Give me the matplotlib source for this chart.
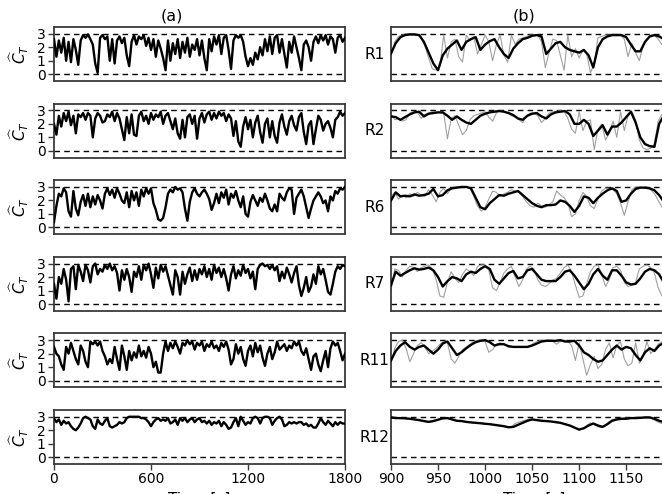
#!/usr/bin/env python3
"""plot.py - C_T time series, full run (a) and zoomed window (b)."""

import numpy as np
import matplotlib
matplotlib.use("Agg")
import matplotlib.pyplot as plt

OUTPUT_NAME = "out.png"

ROW_NAMES = ["R1", "R2", "R6", "R7", "R11", "R12"]
YLABEL = r"$\widehat{C}_T$"
XLABEL = "Time [s]"

# column (a): full record, sampled every 15 s from 0 to 1800 s
full_r1 = [2.6, 1.3, 2.5, 1.6, 2.7, 1.0, 2.4, 0.9, 2.6, 1.8, 0.7, 2.5, 2.9, 2.7, 2.95, 2.6,
           2.2, 0.8, 0.1, 2.7, 2.9, 2.6, 2.8, 1.0, 2.6, 0.8, 2.5, 2.8, 2.3, 2.7, 1.4, 0.6,
           2.4, 2.9, 2.2, 2.8, 2.6, 2.9, 2.1, 2.7, 1.8, 2.6, 1.3, 2.5, 1.9, 1.2, 0.3, 2.5,
           1.0, 2.3, 1.5, 2.6, 1.2, 2.4, 1.6, 2.7, 1.3, 2.2, 1.8, 2.6, 1.4, 2.5, 1.2, 0.3,
           2.6, 1.7, 2.8, 2.2, 2.9, 1.5, 2.7, 2.9, 1.8, 0.4, 2.5, 2.9, 2.7, 2.9, 2.4, 1.3,
           0.6, 1.2, 0.7, 1.6, 1.1, 2.0, 1.4, 2.6, 1.7, 2.8, 1.5, 2.7, 2.9, 1.6, 2.6, 1.5,
           0.5, 2.4, 1.6, 2.8, 2.0, 1.2, 0.3, 2.2, 2.5, 2.0, 1.0, 2.4, 2.8, 2.3, 2.9, 2.5,
           2.9, 2.2, 2.8, 2.6, 1.6, 2.7, 2.9, 2.4, 2.7]
full_r2 = [2.0, 1.2, 2.6, 1.8, 2.8, 2.2, 2.9, 1.9, 2.6, 1.3, 2.7, 2.5, 2.8, 2.3, 2.8, 2.6,
           1.0, 2.4, 2.8, 2.6, 2.1, 2.2, 2.7, 2.5, 2.9, 2.2, 2.8, 2.4, 1.6, 0.8, 2.5, 1.3,
           2.7, 1.2, 1.1, 2.6, 2.9, 2.2, 2.6, 2.0, 2.8, 2.3, 2.7, 2.5, 2.9, 2.0, 2.6, 2.8,
           2.2, 1.6, 2.4, 1.3, 0.9, 2.3, 1.0, 2.5, 2.7, 2.0, 2.6, 0.9, 2.4, 2.8, 2.1, 2.7,
           2.9, 2.3, 2.8, 2.4, 2.9, 2.6, 2.8, 2.2, 2.7, 2.4, 1.1, 2.2, 0.7, 0.3, 1.8, 2.5,
           1.6, 2.3, 1.0, 2.1, 2.6, 1.4, 0.6, 2.0, 2.4, 1.0, 2.2, 1.1, 0.6, 2.1, 2.7, 1.8,
           1.2, 2.2, 2.6, 1.9, 1.5, 2.5, 2.8, 1.4, 0.5, 1.9, 2.2, 0.5, 1.6, 2.6, 2.3, 1.5,
           2.0, 2.2, 1.7, 1.0, 2.3, 2.5, 2.9, 2.6, 2.8]
full_r6 = [0.4, 1.6, 2.5, 2.3, 2.9, 2.6, 1.2, 0.8, 2.7, 1.4, 0.9, 1.9, 2.4, 1.6, 2.5, 1.5,
           2.3, 1.7, 2.4, 2.0, 1.4, 2.5, 2.9, 2.4, 2.8, 2.2, 2.9, 2.5, 2.0, 1.8, 2.6, 1.5,
           2.7, 2.0, 2.6, 1.6, 2.8, 2.3, 2.9, 2.5, 2.9, 1.8, 1.3, 0.6, 0.5, 0.7, 1.5, 2.5,
           2.8, 2.6, 3.0, 2.8, 2.9, 2.6, 1.4, 0.5, 1.9, 2.6, 2.9, 2.5, 2.3, 2.6, 2.8, 2.5,
           2.1, 1.3, 1.8, 2.5, 1.8, 2.6, 2.2, 2.8, 1.7, 2.5, 2.2, 2.7, 2.0, 1.5, 2.3, 1.0,
           0.8, 1.9, 2.4, 2.0, 1.6, 2.2, 1.9, 2.5, 2.0, 1.4, 1.2, 1.7, 1.2, 2.5, 2.2, 2.0,
           2.6, 2.9, 2.8, 1.0, 2.2, 2.5, 2.8, 2.3, 1.5, 0.7, 1.4, 2.0, 2.3, 2.6, 2.3, 1.8,
           2.0, 1.2, 2.3, 2.0, 2.7, 2.5, 2.9, 2.8, 3.0]
full_r7 = [1.5, 0.4, 2.0, 1.5, 2.6, 1.8, 0.2, 2.6, 2.8, 1.1, 2.9, 2.4, 1.7, 2.9, 2.5, 1.6,
           2.8, 3.0, 2.2, 2.6, 2.4, 2.9, 2.6, 3.0, 2.5, 2.8, 2.3, 1.0, 2.5, 1.8, 2.6, 2.0,
           0.9, 2.4, 2.0, 2.8, 1.8, 2.9, 2.5, 3.0, 2.2, 1.2, 2.7, 1.9, 2.9, 2.4, 2.8, 2.1,
           1.4, 0.7, 2.5, 2.0, 0.7, 2.4, 1.5, 2.2, 2.7, 1.7, 2.5, 1.8, 2.6, 2.2, 2.8, 2.0,
           2.6, 1.8, 2.9, 2.3, 2.7, 2.0, 2.6, 1.9, 1.0, 2.2, 2.8, 1.9, 2.5, 2.1, 2.9, 2.3,
           2.6, 1.9, 2.4, 1.1, 2.6, 2.9, 3.0, 2.8, 2.9, 2.6, 2.9, 2.5, 2.8, 1.7, 2.4, 1.9,
           2.7, 2.2, 1.6, 2.3, 2.8, 1.4, 0.6, 1.2, 2.0, 0.9, 1.3, 2.2, 1.5, 2.8, 2.2, 2.6,
           1.8, 0.9, 0.7, 1.5, 2.4, 2.8, 2.6, 2.9, 2.8]
full_r11 = [2.5, 2.0, 1.8, 1.2, 0.8, 2.5, 2.0, 2.8, 2.2, 1.6, 1.2, 2.6, 2.2, 1.4, 1.0, 2.9,
            2.7, 2.9, 2.6, 2.9, 2.2, 1.8, 1.2, 1.6, 1.3, 2.5, 1.6, 0.8, 2.6, 1.8, 0.8, 2.2,
            1.5, 2.1, 1.7, 2.6, 1.8, 2.2, 1.7, 2.5, 2.0, 1.0, 1.4, 0.6, 0.6, 2.0, 2.9, 2.2,
            2.8, 2.4, 2.9, 2.5, 2.0, 2.8, 2.6, 3.0, 2.7, 2.9, 2.3, 2.8, 2.6, 2.9, 2.2, 2.7,
            2.5, 2.9, 2.4, 2.6, 2.2, 2.8, 2.5, 2.9, 2.3, 1.2, 1.6, 2.7, 2.0, 2.5, 1.6, 1.1,
            2.2, 2.6, 1.8, 2.8, 2.1, 2.6, 1.7, 1.1, 2.0, 2.5, 1.6, 2.1, 2.9, 2.3, 2.5, 2.7,
            2.2, 2.6, 2.4, 2.9, 2.6, 2.9, 2.2, 1.9, 2.4, 1.6, 0.8, 1.8, 2.0, 1.2, 0.7, 1.5,
            2.2, 1.0, 2.4, 2.9, 2.6, 2.8, 2.2, 1.5, 2.0]
full_r12 = [2.9, 2.6, 2.8, 2.4, 2.7, 2.5, 2.6, 2.3, 2.1, 2.0, 2.2, 2.5, 2.9, 3.0, 2.9, 2.8,
            2.3, 2.1, 2.8, 2.5, 2.4, 2.7, 2.9, 2.3, 2.2, 2.3, 2.4, 2.6, 2.5, 2.6, 2.9, 3.0,
            3.0, 3.0, 3.0, 3.0, 2.9, 2.9, 2.8, 2.6, 2.3, 2.6, 2.8, 2.9, 2.7, 2.8, 2.7, 2.9,
            2.5, 2.6, 2.8, 2.4, 2.9, 2.7, 2.9, 2.6, 2.8, 2.9, 2.6, 2.8, 2.9, 2.6, 2.7, 2.5,
            2.7, 2.4, 2.6, 2.5, 2.7, 2.3, 2.6, 2.4, 2.1, 2.2, 2.6, 2.9, 2.3, 3.0, 2.7, 2.4,
            2.6, 2.5, 2.9, 3.0, 2.9, 2.5, 2.9, 3.0, 3.0, 2.9, 2.4, 2.7, 2.9, 3.0, 2.8, 2.3,
            2.4, 2.6, 2.5, 2.6, 2.5, 2.6, 2.6, 2.4, 2.5, 2.3, 2.4, 2.2, 2.2, 2.5, 2.9, 2.6,
            2.4, 2.7, 2.5, 2.3, 2.6, 2.4, 2.6, 2.5, 2.5]

# column (b): 900-1200 s window; black = every 5 s, grey = every 4 s
zoom_r1 = [1.55, 2.3, 2.75, 2.9, 2.95, 2.95, 2.9, 2.4, 1.6, 0.8, 0.3, 1.4, 1.9, 2.2, 2.5, 1.8,
           2.4, 2.6, 2.75, 1.8, 2.2, 2.45, 2.6, 2.0, 1.5, 1.2, 1.9, 2.3, 2.6, 2.7, 2.85, 2.9,
           2.8, 1.5, 1.9, 2.3, 2.4, 2.0, 1.8, 1.7, 1.6, 1.8, 1.4, 0.5, 2.0, 2.6, 2.8, 2.9,
           2.9, 2.9, 2.75, 2.2, 1.7, 1.7, 2.4, 2.8, 2.9, 2.8, 2.6, 2.6, 2.6]
raw_r1 = [1.3, 2.4, 2.8, 2.9, 3.0, 3.0, 2.95, 2.9, 2.7, 2.1, 1.2, 0.4, 0.3, 0.6, 2.9, 1.2,
          2.4, 2.6, 1.3, 0.9, 2.9, 2.5, 2.8, 1.5, 2.2, 2.9, 2.4, 1.0, 2.2, 2.9, 1.4, 0.9,
          2.9, 2.2, 2.6, 2.7, 2.8, 2.9, 2.9, 2.9, 2.4, 0.5, 1.6, 2.6, 2.5, 1.4, 0.3, 2.9,
          1.3, 1.9, 1.2, 1.8, 1.5, 0.1, 0.8, 2.7, 2.8, 2.9, 2.9, 3.0, 2.95, 2.9, 2.6, 1.3,
          2.3, 1.6, 1.0, 2.1, 2.6, 2.9, 2.9, 2.6, 2.2, 2.6, 2.7, 2.6]
zoom_r2 = [2.55, 2.5, 2.3, 2.5, 2.7, 2.85, 2.9, 2.55, 2.75, 2.8, 2.85, 2.85, 2.6, 2.3, 2.55, 2.3,
           2.1, 2.0, 2.3, 2.6, 2.75, 2.85, 2.9, 2.95, 2.9, 2.8, 2.65, 2.4, 2.3, 2.6, 2.75, 2.8,
           2.55, 2.4, 2.7, 2.85, 2.9, 2.95, 2.7, 2.0, 2.0, 2.3, 2.0, 1.1, 1.5, 1.9, 1.2, 1.8,
           1.8, 2.1, 2.5, 2.9, 2.1, 1.0, 0.5, 0.35, 0.3, 2.0, 2.6, 2.7, 2.7]
raw_r2 = [2.7, 2.3, 2.4, 2.2, 2.3, 2.8, 2.9, 2.9, 2.4, 2.7, 2.8, 2.9, 2.9, 2.85, 2.8, 0.9,
          2.4, 2.6, 1.9, 1.2, 1.5, 2.3, 2.6, 2.7, 2.8, 2.9, 2.5, 2.2, 2.8, 3.0, 2.9, 2.8,
          2.6, 2.5, 2.3, 2.1, 2.6, 2.8, 2.8, 2.6, 2.1, 2.4, 2.8, 2.9, 2.9, 3.0, 2.9, 2.4,
          1.6, 1.3, 2.9, 1.5, 2.2, 2.3, 0.1, 1.6, 2.0, 0.8, 1.3, 2.2, 1.0, 2.9, 1.5, 2.6,
          2.9, 2.3, 0.8, 0.2, 0.1, 0.2, 0.5, 2.2, 2.7, 2.6, 2.7, 2.7]
zoom_r6 = [2.0, 2.6, 2.3, 2.35, 2.3, 2.45, 2.35, 2.4, 2.5, 2.85, 2.3, 2.4, 2.75, 2.9, 2.95, 3.0,
           3.0, 2.9, 2.2, 1.5, 1.35, 1.8, 2.1, 2.4, 2.35, 2.5, 2.6, 2.7, 2.4, 2.1, 1.8, 1.6,
           1.5, 1.65, 1.65, 1.7, 2.0, 1.9, 1.6, 1.15, 1.6, 2.3, 2.2, 1.8, 2.2, 2.5, 2.75, 2.9,
           2.7, 1.9, 2.0, 2.5, 2.85, 2.95, 2.95, 2.9, 2.75, 2.4, 1.9, 1.5, 1.4]
raw_r6 = [2.3, 2.6, 2.1, 2.4, 2.2, 2.5, 2.3, 2.6, 2.4, 2.3, 2.8, 2.4, 1.9, 2.6, 2.9, 2.5,
          2.9, 3.0, 3.0, 3.0, 3.0, 2.9, 2.3, 1.6, 1.2, 1.5, 2.1, 2.7, 2.6, 2.3, 2.5, 2.6,
          2.8, 2.7, 2.6, 2.3, 1.9, 1.6, 1.5, 1.8, 1.6, 1.5, 1.7, 1.9, 2.7, 2.4, 2.2, 1.8,
          0.8, 1.0, 2.0, 2.6, 2.3, 1.6, 1.4, 2.1, 2.7, 2.9, 2.9, 2.8, 2.5, 1.8, 0.9, 1.9,
          2.8, 3.0, 3.0, 2.9, 2.9, 2.8, 2.5, 2.0, 1.5, 1.2, 1.3, 1.4]
zoom_r7 = [1.4, 2.4, 2.1, 2.3, 2.5, 2.65, 2.55, 2.6, 2.7, 2.5, 2.0, 1.3, 1.7, 2.0, 1.9, 1.7,
           2.2, 2.4, 2.3, 2.6, 2.8, 2.6, 1.8, 1.5, 1.9, 2.3, 2.45, 1.9, 2.0, 2.5, 2.6, 2.2,
           1.8, 1.7, 1.7, 1.7, 2.0, 2.4, 2.5, 2.1, 1.6, 1.1, 1.5, 2.2, 2.6, 2.1, 1.8, 2.5,
           2.5, 2.1, 1.6, 1.45, 1.5, 1.9, 2.4, 2.6, 2.5, 2.2, 1.6, 1.5, 1.7]
raw_r7 = [1.0, 2.6, 2.5, 2.0, 2.5, 2.8, 2.7, 2.4, 2.7, 2.8, 2.9, 2.6, 1.8, 0.6, 0.5, 1.6,
          2.4, 1.9, 1.6, 2.2, 2.6, 2.4, 2.1, 2.8, 2.9, 2.9, 2.5, 1.2, 1.0, 1.6, 2.3, 2.6,
          2.8, 2.0, 1.3, 1.8, 2.6, 2.8, 2.6, 1.8, 1.4, 1.3, 1.5, 1.8, 1.9, 2.3, 2.7, 2.9,
          2.4, 1.4, 0.5, 0.6, 1.5, 2.4, 2.8, 2.9, 2.2, 1.3, 1.8, 2.7, 2.8, 2.5, 1.6, 1.3,
          1.4, 1.6, 2.6, 2.8, 2.9, 2.7, 2.3, 1.2, 0.6, 1.3, 1.8, 2.0]
zoom_r11 = [1.5, 2.2, 2.6, 2.85, 2.5, 2.3, 2.5, 2.6, 2.3, 2.0, 2.3, 2.75, 2.9, 2.4, 1.9, 2.1,
            2.4, 2.65, 2.85, 2.95, 3.0, 2.85, 2.6, 2.7, 2.7, 2.55, 2.5, 2.5, 2.5, 2.5, 2.6, 2.75,
            2.9, 2.95, 2.95, 2.95, 3.0, 2.9, 2.9, 2.95, 2.6, 2.1, 1.9, 1.6, 1.4, 1.5, 1.9, 2.3,
            2.6, 2.3, 2.5, 2.4, 1.9, 1.5, 2.1, 2.4, 2.2, 2.6, 2.8, 2.9, 2.9]
raw_r11 = [1.3, 2.4, 2.9, 3.0, 2.4, 1.4, 2.0, 2.6, 2.8, 2.5, 2.0, 2.2, 2.4, 2.7, 2.9, 2.8,
           1.6, 1.3, 1.8, 2.3, 2.5, 2.7, 2.9, 3.0, 3.0, 2.9, 2.1, 2.3, 2.7, 2.8, 2.7, 2.5,
           2.5, 2.5, 2.5, 2.5, 2.5, 2.6, 2.8, 2.9, 3.0, 3.0, 3.0, 2.9, 2.7, 2.9, 3.0, 2.9,
           2.6, 1.5, 2.8, 1.6, 0.4, 1.2, 1.8, 0.9, 1.2, 2.3, 2.8, 1.7, 2.6, 2.9, 1.6, 1.1,
           1.3, 2.8, 1.3, 1.8, 2.9, 2.0, 2.3, 2.7, 2.9, 2.9, 2.8, 2.9]
zoom_r12 = [2.95, 2.9, 2.9, 2.88, 2.85, 2.8, 2.75, 2.68, 2.62, 2.68, 2.78, 2.88, 2.9, 2.8, 2.7, 2.68,
            2.62, 2.58, 2.55, 2.52, 2.48, 2.45, 2.4, 2.35, 2.3, 2.22, 2.25, 2.4, 2.55, 2.7, 2.8, 2.75,
            2.7, 2.68, 2.65, 2.6, 2.55, 2.45, 2.35, 2.2, 2.05, 2.15, 2.35, 2.5, 2.35, 2.25, 2.45, 2.7,
            2.8, 2.85, 2.85, 2.9, 2.9, 2.92, 2.95, 2.95, 2.85, 2.7, 2.6, 2.6, 2.6]
raw_r12 = [3.0, 2.95, 2.9, 2.9, 2.85, 2.85, 2.8, 2.75, 2.7, 2.65, 2.6, 2.65, 2.75, 2.85, 2.9, 2.9,
           2.82, 2.72, 2.68, 2.66, 2.62, 2.6, 2.56, 2.54, 2.5, 2.48, 2.45, 2.42, 2.38, 2.33, 2.28, 2.22,
           2.24, 2.5, 2.6, 2.7, 2.78, 2.85, 2.8, 2.75, 2.72, 2.68, 2.66, 2.64, 2.6, 2.55, 2.48, 2.4,
           2.3, 2.15, 2.0, 2.1, 2.35, 2.55, 2.4, 2.25, 2.2, 2.35, 2.65, 2.8, 2.85, 2.88, 2.9, 2.9,
           2.9, 2.92, 2.95, 2.95, 2.96, 2.9, 2.75, 2.6, 2.5, 2.55, 2.6, 2.6]

full_series = [full_r1, full_r2, full_r6, full_r7, full_r11, full_r12]
zoom_series = [zoom_r1, zoom_r2, zoom_r6, zoom_r7, zoom_r11, zoom_r12]
raw_series = [raw_r1, raw_r2, raw_r6, raw_r7, raw_r11, raw_r12]

FULL_XTICKS = [0, 600, 1200, 1800]
ZOOM_XTICKS = [900, 950, 1000, 1050, 1100, 1150]

W, H = 662, 494
SPINE = "#3a3a3a"


def style_axes(ax):
    for s in ax.spines.values():
        s.set_color(SPINE)
        s.set_linewidth(1.3)
    ax.axhline(3, color="black", ls=(0, (4, 3)), lw=1.0, zorder=1)
    ax.axhline(0, color="black", ls=(0, (4, 3)), lw=1.0, zorder=1)
    ax.set_ylim(-0.5, 3.5)
    ax.tick_params(labelsize=10, length=4, width=1, color=SPINE, pad=2)


def main() -> None:
    plt.rcParams["font.family"] = ["DejaVu Sans"]
    fig = plt.figure(figsize=(W / 100, H / 100), dpi=100)

    row_h = 54
    for i, name in enumerate(ROW_NAMES):
        top = 27 + 76.6 * i
        bottom = 1 - (top + row_h) / H

        ax = fig.add_axes([54 / W, bottom, 291 / W, row_h / H])
        vals = np.array(full_series[i])
        t = np.linspace(0, 1800, len(vals))
        ax.plot(t, vals, color="black", lw=1.7, zorder=3)
        style_axes(ax)
        ax.set_xlim(0, 1800)
        ax.set_yticks([0, 1, 2, 3])
        ax.set_ylabel(YLABEL, fontsize=11, labelpad=4)

        bx = fig.add_axes([391 / W, bottom, 286 / W, row_h / H])
        raw = np.array(raw_series[i])
        zoom = np.array(zoom_series[i])
        bx.plot(np.linspace(900, 1200, len(raw)), raw, color="#a0a0a0", lw=0.8, zorder=2)
        bx.plot(np.linspace(900, 1200, len(zoom)), zoom, color="black", lw=1.7, zorder=3)
        style_axes(bx)
        bx.set_xlim(900, 1204)
        bx.set_yticks([])
        bx.set_ylabel(name, rotation=0, fontsize=11, labelpad=12, va="center")

        if i < len(ROW_NAMES) - 1:
            ax.set_xticks([])
            bx.set_xticks([])
        else:
            ax.set_xticks(FULL_XTICKS)
            bx.set_xticks(ZOOM_XTICKS)
            ax.set_xlabel(XLABEL, fontsize=11)
            bx.set_xlabel(XLABEL, fontsize=11)

    fig.text(172 / W, 1 - 16 / H, "(a)", ha="center", va="center", fontsize=11.5)
    fig.text(524 / W, 1 - 16 / H, "(b)", ha="center", va="center", fontsize=11.5)

    fig.savefig(OUTPUT_NAME, dpi=100)
    print(f"Wrote {OUTPUT_NAME}")


if __name__ == "__main__":
    main()
